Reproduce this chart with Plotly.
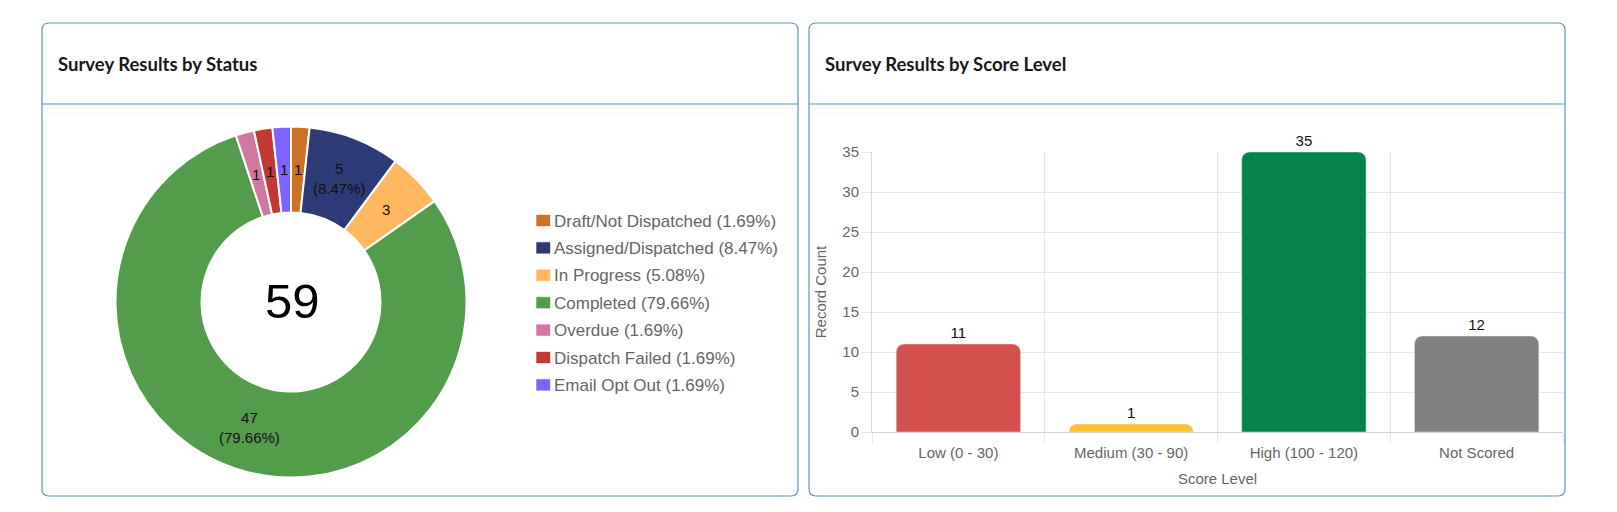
import math
import plotly.graph_objects as go

W, H = 1617, 512

# ---------------- data ----------------
status_labels = ["Draft/Not Dispatched", "Assigned/Dispatched", "In Progress", "Completed",
                 "Overdue", "Dispatch Failed", "Email Opt Out"]
status_counts = [1, 5, 3, 47, 1, 1, 1]
status_colors = ["#CD7224", "#2C3A76", "#FFB85F", "#539C4C", "#D277A0", "#C33833", "#7D63FF"]

score_levels = ["Low (0 - 30)", "Medium (30 - 90)", "High (100 - 120)", "Not Scored"]
score_counts = [11, 1, 35, 12]
score_colors = ["#D4504C", "#FDC12F", "#04844B", "#808080"]

left_title = "Survey Results by Status"
right_title = "Survey Results by Score Level"
y_title = "Record Count"
x_title = "Score Level"

# ---------------- helpers ----------------
def px(x):
    return x / W

def py(y):
    return 1 - y / H

def rounded_rect(x0, y0, x1, y1, r):
    rx, ry = r / W, r / H
    X0, X1 = px(x0), px(x1)
    Y0, Y1 = py(y0), py(y1)  # Y0 top (larger), Y1 bottom
    return (f"M{X0 + rx},{Y0} L{X1 - rx},{Y0} Q{X1},{Y0} {X1},{Y0 - ry} "
            f"L{X1},{Y1 + ry} Q{X1},{Y1} {X1 - rx},{Y1} "
            f"L{X0 + rx},{Y1} Q{X0},{Y1} {X0},{Y1 + ry} "
            f"L{X0},{Y0 - ry} Q{X0},{Y0} {X0 + rx},{Y0} Z")

FONT = "Liberation Sans, Arial, sans-serif"
TITLE_FONT = "Lato, Open Sans, sans-serif"
TXT = "#666666"
GRID = "#e6e6e6"
BORDER = "#5B97B6"

total = sum(status_counts)
pcts = [c / total * 100 for c in status_counts]
legend_labels = [f"{l} ({p:.2f}%)" for l, p in zip(status_labels, pcts)]

# pie geometry (pixels)
cx, cy, R = 291, 302, 175.5
HOLE = 0.51

fig = go.Figure()

fig.add_trace(go.Pie(
    labels=legend_labels, values=status_counts, sort=False,
    direction="clockwise", rotation=0, hole=HOLE,
    marker=dict(colors=status_colors, line=dict(color="white", width=2)),
    textinfo="none", hoverinfo="label+value",
    domain=dict(x=[px(cx - R), px(cx + R)], y=[py(cy + R), py(cy - R)]),
    showlegend=False,
))

fig.add_trace(go.Bar(
    x=score_levels, y=score_counts,
    marker=dict(color=score_colors, cornerradius=8),
    width=0.72,
    text=[str(v) for v in score_counts], textposition="outside",
    textfont=dict(size=15, color="#111111", family=FONT),
    cliponaxis=False, showlegend=False,
    xaxis="x", yaxis="y",
))

shapes = []
for (x0, x1) in [(42, 798), (809, 1565)]:
    shapes.append(dict(type="path", path=rounded_rect(x0, 23, x1, 496, 7),
                       xref="paper", yref="paper", line=dict(color=BORDER, width=1.2),
                       fillcolor="white", layer="below"))
    for k in range(6):
        shapes.append(dict(type="rect", xref="paper", yref="paper",
                           x0=px(x0 + 1), x1=px(x1 - 1), y0=py(105 + 2 * k), y1=py(105 + 2 * k + 2),
                           line=dict(width=0), fillcolor=f"rgba(120,140,160,{0.045 - 0.007 * k:.3f})",
                           layer="below"))
    shapes.append(dict(type="line", xref="paper", yref="paper",
                       x0=px(x0), x1=px(x1), y0=py(104), y1=py(104),
                       line=dict(color=BORDER, width=1.2), layer="below"))

annotations = [
    dict(text=f"<b>{left_title}</b>", x=px(56), y=py(64), xref="paper", yref="paper",
         xanchor="left", yanchor="middle", showarrow=False,
         font=dict(family=TITLE_FONT, size=18.5, color="#181818")),
    dict(text=f"<b>{right_title}</b>", x=px(823), y=py(64), xref="paper", yref="paper",
         xanchor="left", yanchor="middle", showarrow=False,
         font=dict(family=TITLE_FONT, size=18.5, color="#181818")),
    dict(text=str(total), x=px(cx + 1), y=py(cy - 1), xref="paper", yref="paper",
         xanchor="center", yanchor="middle", showarrow=False,
         font=dict(family=FONT, size=49, color="#000000")),
]

# slice value labels at the middle of each ring segment
rmid = (R + R * HOLE) / 2
cum = 0
for v, p in zip(status_counts, pcts):
    ang = (cum + v / 2) / total * 2 * math.pi
    cum += v
    lx = cx + rmid * math.sin(ang)
    ly = cy - rmid * math.cos(ang)
    t = f"{v}<br>({p:.2f}%)" if p >= 8 else str(v)
    annotations.append(dict(text=t, x=px(lx), y=py(ly), xref="paper", yref="paper",
                            xanchor="center", yanchor="middle", showarrow=False,
                            font=dict(family=FONT, size=15, color="#111111")))

# legend (swatch + label per status)
LEG_X, LEG_Y0, LEG_DY = 536, 220.5, 27.4
SW_W, SW_H = 14.5, 12
for i, (lab, col) in enumerate(zip(legend_labels, status_colors)):
    yc = LEG_Y0 + i * LEG_DY
    shapes.append(dict(type="rect", xref="paper", yref="paper",
                       x0=px(LEG_X), x1=px(LEG_X + SW_W),
                       y0=py(yc + SW_H / 2), y1=py(yc - SW_H / 2),
                       fillcolor=col, line=dict(color="rgba(255,255,255,0.6)", width=1)))
    annotations.append(dict(text=lab, x=px(LEG_X + SW_W + 1.5), y=py(yc + 0.5),
                            xref="paper", yref="paper", xanchor="left", yanchor="middle",
                            showarrow=False, font=dict(family=FONT, size=17, color=TXT)))

fig.update_layout(
    width=W, height=H, autosize=False,
    margin=dict(l=0, r=0, t=0, b=0, pad=0, autoexpand=False),
    paper_bgcolor="white", plot_bgcolor="rgba(0,0,0,0)",
    font=dict(family=FONT, size=15, color=TXT),
    shapes=shapes, annotations=annotations,
    showlegend=False,
    xaxis=dict(domain=[px(872), px(1563)], type="category", automargin=False,
               tickson="boundaries", ticks="outside", ticklen=10, tickcolor=GRID,
               ticklabelstandoff=7,
               showgrid=True, gridcolor=GRID, showline=True, linecolor="#cfcfcf",
               tickfont=dict(size=15, color=TXT), fixedrange=True,
               title=dict(text=x_title, font=dict(size=15, color=TXT), standoff=13),
               anchor="y"),
    yaxis=dict(domain=[py(432), py(152)], range=[0, 35], dtick=5, automargin=False,
               ticks="outside", ticklen=9, tickcolor=GRID,
               showgrid=True, gridcolor=GRID, zeroline=False,
               showline=True, linecolor="#d9d9d9",
               tickfont=dict(size=15, color=TXT), fixedrange=True,
               title=dict(text=y_title, font=dict(size=15, color=TXT), standoff=12),
               anchor="x"),
)

fig.write_html("out.html", config={"displayModeBar": False},
               post_script="document.body.style.margin='0';")
